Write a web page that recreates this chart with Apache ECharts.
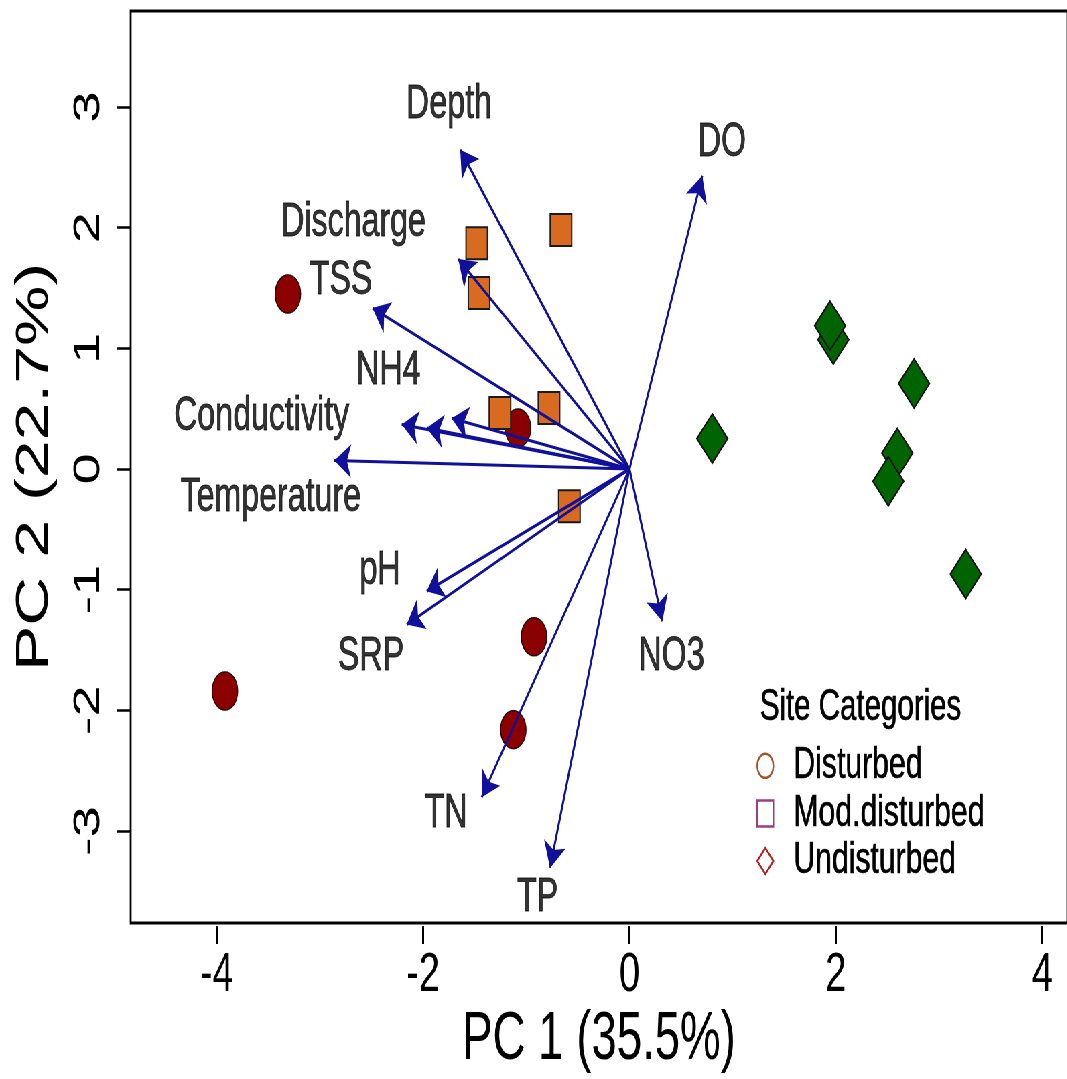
<!DOCTYPE html>
<html>
<head>
<meta charset="utf-8">
<script src="https://cdn.jsdelivr.net/npm/echarts@6/dist/echarts.min.js"></script>
<style>
  html, body { margin: 0; padding: 0; background: #fff; overflow: hidden; }
  /* the original figure is squeezed sideways, so the chart is drawn wide and scaled */
  #main { width: 1593px; height: 1079px; transform: scaleX(0.67); transform-origin: 0 0; }
</style>
</head>
<body>
<div id="main"></div>
<script>
var W = 1593;
var FONT = '"Liberation Sans", Arial, Helvetica, sans-serif';

// site scores
var disturbedX = [-3.31, -1.08, -3.92, -0.925, -1.126];
var disturbedY = [1.45, 0.34, -1.84, -1.39, -2.16];
var modX = [-1.48, -0.664, -1.458, -1.255, -0.78, -0.583];
var modY = [1.87, 1.98, 1.458, 0.464, 0.505, -0.309];
var undX = [1.975, 1.943, 2.757, 0.802, 2.595, 2.508, 3.258];
var undY = [1.072, 1.188, 0.708, 0.252, 0.133, -0.102, -0.870];

// variable loadings (arrow tips)
var arrowX = [-1.64, 0.705, -1.659, -2.49, -1.723, -2.207, -1.965, -2.86, -1.965, -2.159, 0.318, -1.432, -0.770];
var arrowY = [2.646, 2.43, 1.74, 1.334, 0.42, 0.368, 0.34, 0.07, -1.013, -1.289, -1.262, -2.72, -3.306];

// variable labels
var labelNames = ['Depth', 'DO', 'Discharge', 'TSS', 'NH4', 'Conductivity', 'Temperature', 'pH', 'SRP', 'NO3', 'TN', 'TP'];
var labelX = [-1.749, 0.896, -2.674, -2.795, -2.337, -3.564, -3.476, -2.418, -2.505, 0.407, -1.778, -0.891];
var labelY = [3.02, 2.70, 2.04, 1.563, 0.81, 0.437, -0.24, -0.847, -1.56, -1.56, -2.86, -3.55];

var xTicks = [-4, 4, 2];
var yTicks = [-3, 3, 1];

function pairs(xs, ys) {
  return xs.map(function (x, i) { return [x, ys[i]]; });
}

var chart = echarts.init(document.getElementById('main'));

chart.setOption({
  animation: false,
  backgroundColor: '#fff',
  textStyle: { fontFamily: FONT },
  title: {
    text: 'Site Categories',
    left: 1134,
    top: 686,
    padding: 0,
    textStyle: { fontSize: 44, fontWeight: 'normal', color: '#000', fontFamily: FONT, textBorderColor: '#000', textBorderWidth: 0.6 }
  },
  legend: {
    orient: 'vertical',
    left: 1129,
    top: 743,
    itemWidth: 24,
    itemHeight: 26,
    itemGap: 2,
    padding: 0,
    selectedMode: false,
    formatter: function (name) { return '  ' + name; },
    textStyle: { fontSize: 45, lineHeight: 44, color: '#000', fontFamily: FONT, textBorderColor: '#000', textBorderWidth: 0.6 },
    data: [
      { name: 'Disturbed', icon: 'circle', itemStyle: { color: 'rgba(0,0,0,0)', borderColor: '#a0552d', borderWidth: 2.5 } },
      { name: 'Mod.disturbed', icon: 'rect', itemStyle: { color: 'rgba(0,0,0,0)', borderColor: '#9b3f7a', borderWidth: 2.5 } },
      { name: 'Undisturbed', icon: 'diamond', itemStyle: { color: 'rgba(0,0,0,0)', borderColor: '#b22222', borderWidth: 2.5 } }
    ]
  },
  grid: [
    { left: 195, right: -12, top: 11, bottom: 153, show: true, borderColor: '#000', borderWidth: 2.8, backgroundColor: 'rgba(0,0,0,0)' },
    { left: 323.4, right: W - 1555.7, top: 107, bottom: 248 }
  ],
  xAxis: [
    {
      gridIndex: 0, type: 'value', min: 0, max: 1,
      axisLine: { show: false }, axisTick: { show: false }, axisLabel: { show: false }, splitLine: { show: false },
      name: 'PC 1 (35.5%)', nameLocation: 'middle', nameGap: 83,
      nameTextStyle: { fontSize: 68, color: '#000', fontFamily: FONT }
    },
    {
      gridIndex: 1, type: 'value', min: xTicks[0], max: xTicks[1], interval: xTicks[2], offset: 95,
      axisLine: { show: false, onZero: false },
      axisTick: { show: true, inside: false, length: 18, lineStyle: { color: '#000', width: 3 } },
      axisLabel: { fontSize: 56, margin: 22, color: '#000', fontFamily: FONT },
      splitLine: { show: false }
    }
  ],
  yAxis: [
    {
      gridIndex: 0, type: 'value', min: 0, max: 1,
      axisLine: { show: false }, axisTick: { show: false }, axisLabel: { show: false }, splitLine: { show: false },
      name: 'PC 2 (22.7%)', nameLocation: 'middle', nameGap: 109, nameRotate: 90,
      nameTextStyle: { fontSize: 68, color: '#000', fontFamily: FONT }
    },
    {
      gridIndex: 1, type: 'value', min: yTicks[0], max: yTicks[1], interval: yTicks[2], offset: 128.4,
      axisLine: { show: false, onZero: false },
      axisTick: { show: true, inside: false, length: 21, lineStyle: { color: '#000', width: 2.5 } },
      axisLabel: { fontSize: 56, margin: 34, rotate: 90, color: '#000', fontFamily: FONT },
      splitLine: { show: false }
    }
  ],
  series: [
    {
      name: 'Disturbed', type: 'scatter', xAxisIndex: 1, yAxisIndex: 1, clip: false, z: 2,
      symbol: 'circle', symbolSize: 38,
      itemStyle: { color: '#8b0000', borderColor: '#2a0000', borderWidth: 1.5, opacity: 1 },
      data: pairs(disturbedX, disturbedY)
    },
    {
      name: 'Mod.disturbed', type: 'scatter', xAxisIndex: 1, yAxisIndex: 1, clip: false, z: 2,
      symbol: 'rect', symbolSize: 32,
      itemStyle: { color: '#d86b1f', borderColor: '#1a1a1a', borderWidth: 2, opacity: 1 },
      data: pairs(modX, modY)
    },
    {
      name: 'Undisturbed', type: 'scatter', xAxisIndex: 1, yAxisIndex: 1, clip: false, z: 2,
      symbol: 'diamond', symbolSize: [46, 49],
      itemStyle: { color: '#006400', borderColor: '#111', borderWidth: 2, opacity: 1 },
      data: pairs(undX, undY)
    },
    {
      name: 'loadings', type: 'lines', coordinateSystem: 'cartesian2d', xAxisIndex: 1, yAxisIndex: 1,
      clip: false, z: 3, silent: true,
      symbol: ['none', 'arrow'], symbolSize: 25,
      lineStyle: { color: '#10109a', width: 3, opacity: 1 },
      data: arrowX.map(function (x, i) { return { coords: [[0, 0], [x, arrowY[i]]] }; })
    },
    {
      name: 'labels', type: 'scatter', xAxisIndex: 1, yAxisIndex: 1, clip: false, z: 4, silent: true,
      symbolSize: 0,
      label: {
        show: true, position: 'inside', fontSize: 48, color: '#000', fontFamily: FONT,
        textBorderColor: '#000', textBorderWidth: 0.8,
        formatter: function (p) { return labelNames[p.dataIndex]; }
      },
      data: pairs(labelX, labelY)
    }
  ]
});
</script>
</body>
</html>
